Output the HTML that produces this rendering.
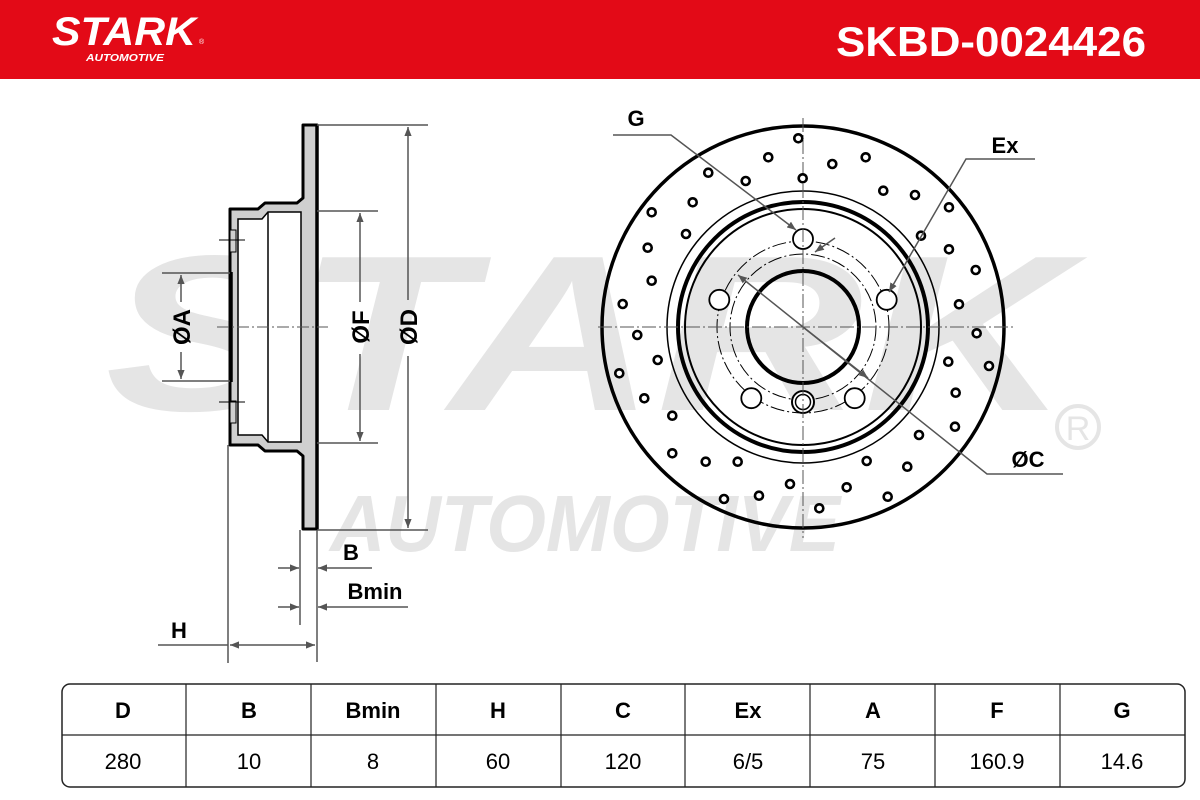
<!DOCTYPE html>
<html><head><meta charset="utf-8"><style>
html,body{margin:0;padding:0;background:#fff;}
svg{display:block;}
</style></head><body>
<svg width="1200" height="800" viewBox="0 0 1200 800" xmlns="http://www.w3.org/2000/svg" font-family="Liberation Sans, sans-serif">
<defs>
<marker id="ar" viewBox="0 0 10 10" refX="10" refY="5" markerWidth="9" markerHeight="9" orient="auto-start-reverse" markerUnits="userSpaceOnUse"><path d="M0,1 L10,5 L0,9 Z" fill="#555"/></marker>
</defs>
<!-- header -->
<rect x="0" y="0" width="1200" height="79" fill="#e30a17"/>
<text x="52" y="45" font-size="40" font-weight="bold" font-style="italic" fill="#fff" textLength="144" lengthAdjust="spacingAndGlyphs">STARK</text>
<text x="199" y="44" font-size="7" fill="#fff">®</text>
<text x="86" y="61" font-size="10" font-weight="bold" font-style="italic" fill="#fff" textLength="78" lengthAdjust="spacingAndGlyphs">AUTOMOTIVE</text>
<text x="836" y="56" font-size="42" font-weight="bold" fill="#fff" textLength="310" lengthAdjust="spacingAndGlyphs">SKBD-0024426</text>
<!-- watermark -->
<text x="105" y="410" font-size="222" font-weight="bold" font-style="italic" fill="#e5e5e5" textLength="965" lengthAdjust="spacingAndGlyphs">STARK</text>
<text x="330" y="551" font-size="80" font-weight="bold" font-style="italic" fill="#e5e5e5" textLength="510" lengthAdjust="spacingAndGlyphs">AUTOMOTIVE</text>
<circle cx="1078" cy="427" r="21" fill="none" stroke="#e5e5e5" stroke-width="4"/>
<text x="1078" y="440" font-size="34" fill="#e5e5e5" text-anchor="middle">R</text>

<!-- left profile -->
<path d="M303,125 L317,125 L317,529 L303,529 L303,456 L297,451 L265,451 L258,445 L230,445 L230,209 L258,209 L265,203 L297,203 L303,198 Z" fill="#cfcfcf" stroke="#000" stroke-width="3" stroke-linejoin="round"/>
<path d="M238,219 L262,219 L268,212 L301,212 L301,442 L268,442 L262,435 L238,435 Z" fill="#fff" stroke="#000" stroke-width="1.5"/>
<line x1="268" y1="212" x2="268" y2="442" stroke="#000" stroke-width="1.5"/>
<line x1="317" y1="125" x2="317" y2="529" stroke="#000" stroke-width="3.5"/>
<rect x="230" y="230" width="6" height="22" fill="#cfcfcf" stroke="#000" stroke-width="1"/>
<rect x="230" y="401" width="6" height="22" fill="#cfcfcf" stroke="#000" stroke-width="1"/>
<line x1="219" y1="240" x2="245" y2="240" stroke="#000" stroke-width="1"/>
<line x1="219" y1="402" x2="245" y2="402" stroke="#000" stroke-width="1"/>
<line x1="232" y1="272" x2="232" y2="382" stroke="#000" stroke-width="1.5"/>
<line x1="217" y1="327" x2="328" y2="327" stroke="#555" stroke-width="1" stroke-dasharray="12,3,2,3"/>
<g stroke="#555" stroke-width="1.5" fill="none">
<line x1="317" y1="125" x2="428" y2="125"/><line x1="317" y1="530" x2="428" y2="530"/>
<line x1="408" y1="127" x2="408" y2="300" marker-start="url(#ar)"/><line x1="408" y1="356" x2="408" y2="528" marker-end="url(#ar)"/>
<line x1="317" y1="211" x2="378" y2="211"/><line x1="317" y1="443" x2="378" y2="443"/>
<line x1="360" y1="213" x2="360" y2="302" marker-start="url(#ar)"/><line x1="360" y1="354" x2="360" y2="441" marker-end="url(#ar)"/>
<line x1="162" y1="273" x2="230" y2="273"/><line x1="162" y1="381" x2="230" y2="381"/>
<line x1="181" y1="275" x2="181" y2="302" marker-start="url(#ar)"/><line x1="181" y1="352" x2="181" y2="379" marker-end="url(#ar)"/>
<line x1="300" y1="530" x2="300" y2="625"/><line x1="317" y1="530" x2="317" y2="662"/>
<line x1="228" y1="445" x2="228" y2="663"/>
<line x1="278" y1="568" x2="299" y2="568" marker-end="url(#ar)"/><line x1="372" y1="568" x2="318" y2="568" marker-end="url(#ar)"/>
<line x1="278" y1="607" x2="299" y2="607" marker-end="url(#ar)"/><line x1="408" y1="607" x2="318" y2="607" marker-end="url(#ar)"/>
<line x1="158" y1="645" x2="228" y2="645"/>
<line x1="230" y1="645" x2="315" y2="645" marker-start="url(#ar)" marker-end="url(#ar)"/>
</g>
<g font-size="24" font-weight="bold" fill="#000" text-anchor="middle">
<text transform="translate(417,327) rotate(-90)">ØD</text>
<text transform="translate(369,327) rotate(-90)">ØF</text>
<text transform="translate(190,327) rotate(-90)">ØA</text>
<text x="351" y="560" font-size="22">B</text>
<text x="375" y="599" font-size="22">Bmin</text>
<text x="179" y="638" font-size="22">H</text>
<text x="636" y="126" font-size="22">G</text>
<text x="1005" y="153" font-size="22">Ex</text>
<text x="1028" y="467" font-size="22">ØC</text>
</g>

<!-- front disc -->
<g fill="none" stroke="#000">
<circle cx="803" cy="327" r="201" stroke-width="3.5"/>
<circle cx="803" cy="327" r="136" stroke-width="1.5"/>
<circle cx="803" cy="327" r="125" stroke-width="4"/>
<circle cx="803" cy="327" r="118" stroke-width="2"/>
<circle cx="803" cy="327" r="56" stroke-width="4"/>
<circle cx="803" cy="327" r="86" stroke-width="1" stroke-dasharray="14,3,2,3"/>
<circle cx="803" cy="327" r="73" stroke-width="1" stroke-dasharray="14,3,2,3"/>
<g stroke-width="1.8" fill="#fff">
<circle cx="803" cy="239" r="10"/>
<circle cx="886.7" cy="299.8" r="10"/>
<circle cx="854.7" cy="398.2" r="10"/>
<circle cx="751.3" cy="398.2" r="10"/>
<circle cx="719.3" cy="299.8" r="10"/>
<circle cx="803" cy="402" r="11" stroke-width="2"/>
<circle cx="803" cy="402" r="7.5" stroke-width="1.5"/>
</g>
</g>
<g stroke="#555" stroke-width="1" stroke-dasharray="14,3,2,3">
<line x1="803" y1="118" x2="803" y2="538"/>
<line x1="598" y1="327" x2="1015" y2="327"/>
</g>
<g fill="#fff" stroke="#000" stroke-width="2.6">
<circle cx="798.3" cy="138.3" r="4"/><circle cx="802.7" cy="178.3" r="4"/><circle cx="768.3" cy="157.3" r="4"/><circle cx="832.3" cy="164" r="4"/><circle cx="865.7" cy="157.3" r="4"/><circle cx="708.3" cy="172.7" r="4"/><circle cx="745.7" cy="181" r="4"/><circle cx="883.3" cy="190.7" r="4"/><circle cx="915" cy="195" r="4"/><circle cx="949" cy="207.3" r="4"/><circle cx="651.7" cy="212.3" r="4"/><circle cx="692.7" cy="202.3" r="4"/><circle cx="686" cy="234" r="4"/><circle cx="921" cy="235.7" r="4"/><circle cx="949" cy="249.3" r="4"/><circle cx="647.7" cy="247.7" r="4"/><circle cx="651.7" cy="280.7" r="4"/><circle cx="975.7" cy="270" r="4"/><circle cx="622.7" cy="304" r="4"/><circle cx="959" cy="304.3" r="4"/><circle cx="637.3" cy="335" r="4"/><circle cx="976.7" cy="333.3" r="4"/><circle cx="657.7" cy="360" r="4"/><circle cx="948.3" cy="361.7" r="4"/><circle cx="989" cy="366" r="4"/><circle cx="619.3" cy="373.3" r="4"/><circle cx="644.3" cy="398.3" r="4"/><circle cx="955.7" cy="392.7" r="4"/><circle cx="672.3" cy="415.7" r="4"/><circle cx="955" cy="426.7" r="4"/><circle cx="919" cy="435" r="4"/><circle cx="672.3" cy="453.3" r="4"/><circle cx="705.7" cy="461.7" r="4"/><circle cx="737.7" cy="461.7" r="4"/><circle cx="866.7" cy="461" r="4"/><circle cx="907.3" cy="466.7" r="4"/><circle cx="790" cy="484" r="4"/><circle cx="846.7" cy="487.3" r="4"/><circle cx="759" cy="495.7" r="4"/><circle cx="724" cy="499" r="4"/><circle cx="887.7" cy="496.7" r="4"/><circle cx="819.3" cy="508.3" r="4"/>
</g>
<g stroke="#555" stroke-width="1.5" fill="none">
<polyline points="613,135 671,135 796,230" marker-end="url(#ar)"/>
<polyline points="1035,159 966,159 889,292" marker-end="url(#ar)"/>
<polyline points="1063,474 987,474 803,327" />
<line x1="803" y1="327" x2="738" y2="275" marker-end="url(#ar)"/>
<line x1="803" y1="327" x2="868" y2="378" marker-end="url(#ar)"/>
<line x1="835" y1="238" x2="815" y2="252" marker-end="url(#ar)"/>
</g>

<!-- table -->
<rect x="62" y="684" width="1123" height="103" rx="8" fill="none" stroke="#222" stroke-width="1.5"/>
<line x1="62" y1="735" x2="1185" y2="735" stroke="#222" stroke-width="1.2"/>
<g stroke="#222" stroke-width="1.2">
<line x1="186" y1="684" x2="186" y2="787"/><line x1="311" y1="684" x2="311" y2="787"/><line x1="436" y1="684" x2="436" y2="787"/><line x1="561" y1="684" x2="561" y2="787"/><line x1="685" y1="684" x2="685" y2="787"/><line x1="810" y1="684" x2="810" y2="787"/><line x1="935" y1="684" x2="935" y2="787"/><line x1="1060" y1="684" x2="1060" y2="787"/>
</g>
<g font-size="22" text-anchor="middle" fill="#000">
<g font-weight="bold">
<text x="123" y="718">D</text><text x="249" y="718">B</text><text x="373" y="718">Bmin</text><text x="498" y="718">H</text><text x="623" y="718">C</text><text x="748" y="718">Ex</text><text x="873" y="718">A</text><text x="997" y="718">F</text><text x="1122" y="718">G</text>
</g>
<text x="123" y="769">280</text><text x="249" y="769">10</text><text x="373" y="769">8</text><text x="498" y="769">60</text><text x="623" y="769">120</text><text x="748" y="769">6/5</text><text x="873" y="769">75</text><text x="997" y="769">160.9</text><text x="1122" y="769">14.6</text>
</g>
</svg>
</body></html>
